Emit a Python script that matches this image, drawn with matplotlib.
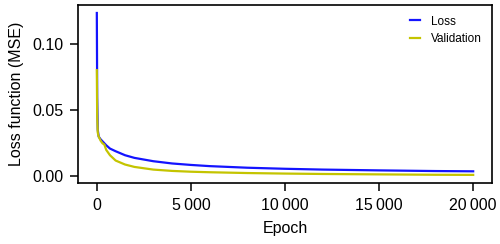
import matplotlib
matplotlib.use("Agg")
import matplotlib.pyplot as plt
from matplotlib.ticker import FuncFormatter

plt.rcParams['font.family'] = ['Liberation Sans', 'DejaVu Sans']

# training history
epochs = [0, 20, 50, 100, 200, 300, 400, 500, 700, 1000, 1500, 2000, 3000,
          4000, 5000, 6000, 8000, 10000, 12000, 15000, 18000, 20000]
loss = [0.123, 0.06, 0.035, 0.030, 0.028, 0.0265, 0.025, 0.0235, 0.021, 0.019,
        0.016, 0.014, 0.0115, 0.0098, 0.0087, 0.0078, 0.0066, 0.0058, 0.0052,
        0.0046, 0.0041, 0.0039]
validation = [0.080, 0.045, 0.033, 0.030, 0.027, 0.025, 0.024, 0.020, 0.016,
              0.012, 0.009, 0.0072, 0.0052, 0.0042, 0.0036, 0.0032, 0.0026,
              0.0022, 0.0019, 0.0016, 0.0013, 0.0012]

fig = plt.figure(figsize=(5, 2.44), dpi=100)
ax = fig.add_axes([0.156, 0.25, 0.828, 0.73])

ax.plot(epochs, loss, color="#1414ff", lw=1.6, label="Loss")
ax.plot(epochs, validation, color="#c4c400", lw=1.6, label="Validation")

ax.set_xticks([0, 5000, 10000, 15000, 20000])
ax.set_yticks([0.0, 0.05, 0.10])
ax.xaxis.set_major_formatter(FuncFormatter(
    lambda v, p: f"{int(v):,}".replace(",", "\u2009")))
ax.yaxis.set_major_formatter(FuncFormatter(lambda v, p: f"{v:.2f}"))
ax.tick_params(direction="out", length=6, width=1.1, labelsize=11.5, pad=4.5)
for s in ax.spines.values():
    s.set_linewidth(1.2)

ax.set_xlabel("Epoch", fontsize=11.5, labelpad=6)
ax.set_ylabel("Loss function (MSE)", fontsize=11.5, labelpad=6)
ax.legend(loc="upper right", frameon=False, fontsize=8.5, handlelength=0.85,
          handletextpad=0.9, labelspacing=0.45)

fig.savefig("out.png", dpi=100)
